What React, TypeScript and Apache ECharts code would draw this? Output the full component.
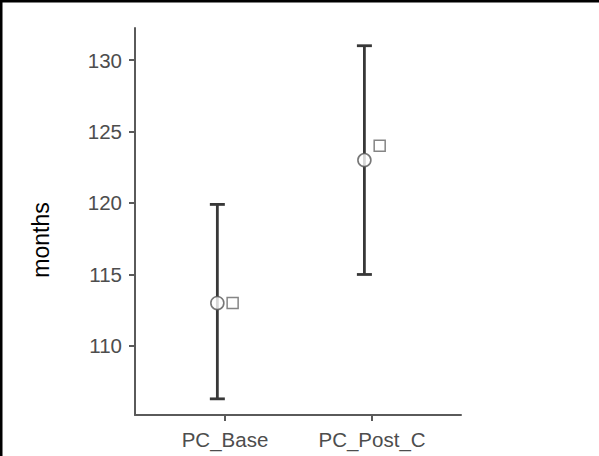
import React, { useEffect, useRef } from "react";
import * as echarts from "echarts";

// Conditions on the x axis
const categories = ["PC_Base", "PC_Post_C"];
// Mean (open circle) with its interval
const meanValues = [113.0, 123.0];
const lowerValues = [106.3, 115.0];
const upperValues = [119.9, 131.0];
// Second statistic (open square)
const squareValues = [113.0, 124.0];
// Y tick labels
const yTicks = [110, 115, 120, 125, 130];

const DODGE = 0.052;

export default function App() {
  const ref = useRef<HTMLDivElement>(null);

  useEffect(() => {
    if (!ref.current) return;
    const chart = echarts.init(ref.current, null, { renderer: "svg" });

    const xPos = categories.map((_, i) => i + 1);
    const errData = categories.map((_, i) => [xPos[i] - DODGE, lowerValues[i], upperValues[i]]);
    const circleData = categories.map((_, i) => [xPos[i] - DODGE, meanValues[i]]);
    const squareData = categories.map((_, i) => [xPos[i] + DODGE, squareValues[i]]);

    const labelColor = "#4d4d4d";
    const axisColor = "#5a5a5a";
    const font = "Liberation Sans, Arial, sans-serif";

    chart.setOption({
      animation: false,
      backgroundColor: "#ffffff",
      grid: { left: 135, right: 138, top: 28, bottom: 41 },
      xAxis: {
        type: "value",
        min: 0.388,
        max: 2.605,
        splitLine: { show: false },
        axisLine: { show: true, lineStyle: { color: axisColor, width: 2 } },
        axisTick: {
          show: true,
          length: 6,
          customValues: xPos,
          lineStyle: { color: axisColor, width: 2 },
        },
        axisLabel: {
          customValues: xPos,
          margin: 14,
          color: labelColor,
          fontSize: 20.5,
          fontFamily: font,
          formatter: (v: number) => categories[Math.round(v) - 1] ?? "",
        },
      },
      yAxis: {
        type: "value",
        min: 105.17,
        max: 132.24,
        splitLine: { show: false },
        axisLine: { show: true, lineStyle: { color: axisColor, width: 2 } },
        axisTick: {
          show: true,
          length: 6,
          customValues: yTicks,
          lineStyle: { color: axisColor, width: 2 },
        },
        axisLabel: {
          customValues: yTicks,
          margin: 13,
          color: labelColor,
          fontSize: 20.5,
          fontFamily: font,
        },
      },
      graphic: [
        { type: "rect", shape: { x: 0, y: 0, width: 599, height: 2.5 }, style: { fill: "#000" }, z: 100 },
        { type: "rect", shape: { x: 0, y: 0, width: 2.5, height: 456 }, style: { fill: "#000" }, z: 100 },
        {
          type: "text",
          x: 41,
          y: 240,
          rotation: Math.PI / 2,
          style: {
            text: "months",
            fill: "#000",
            fontSize: 23,
            fontFamily: font,
            align: "center",
            verticalAlign: "middle",
          },
        },
      ],
      series: [
        {
          type: "custom",
          data: errData,
          z: 2,
          renderItem: (params: any, api: any) => {
            const x = api.value(0);
            const lo = api.coord([x, api.value(1)]);
            const hi = api.coord([x, api.value(2)]);
            const half = 7.5;
            const style = { stroke: "#383838", lineWidth: 2.8 };
            return {
              type: "group",
              children: [
                { type: "line", shape: { x1: lo[0], y1: lo[1], x2: hi[0], y2: hi[1] }, style },
                { type: "line", shape: { x1: hi[0] - half, y1: hi[1], x2: hi[0] + half, y2: hi[1] }, style },
                { type: "line", shape: { x1: lo[0] - half, y1: lo[1], x2: lo[0] + half, y2: lo[1] }, style },
              ],
            };
          },
        },
        {
          type: "scatter",
          data: circleData,
          symbol: "circle",
          symbolSize: 13,
          z: 5,
          itemStyle: { color: "#ffffff", borderColor: "#555555", borderWidth: 1.6 },
        },
        {
          type: "scatter",
          data: squareData,
          symbol: "rect",
          symbolSize: 11,
          z: 5,
          itemStyle: { color: "#ffffff", borderColor: "#666666", borderWidth: 1.5 },
        },
      ],
    });

    return () => chart.dispose();
  }, []);

  return (
    <div
      ref={ref}
      style={{ position: "fixed", left: 0, top: 0, width: 599, height: 456 }}
    />
  );
}
